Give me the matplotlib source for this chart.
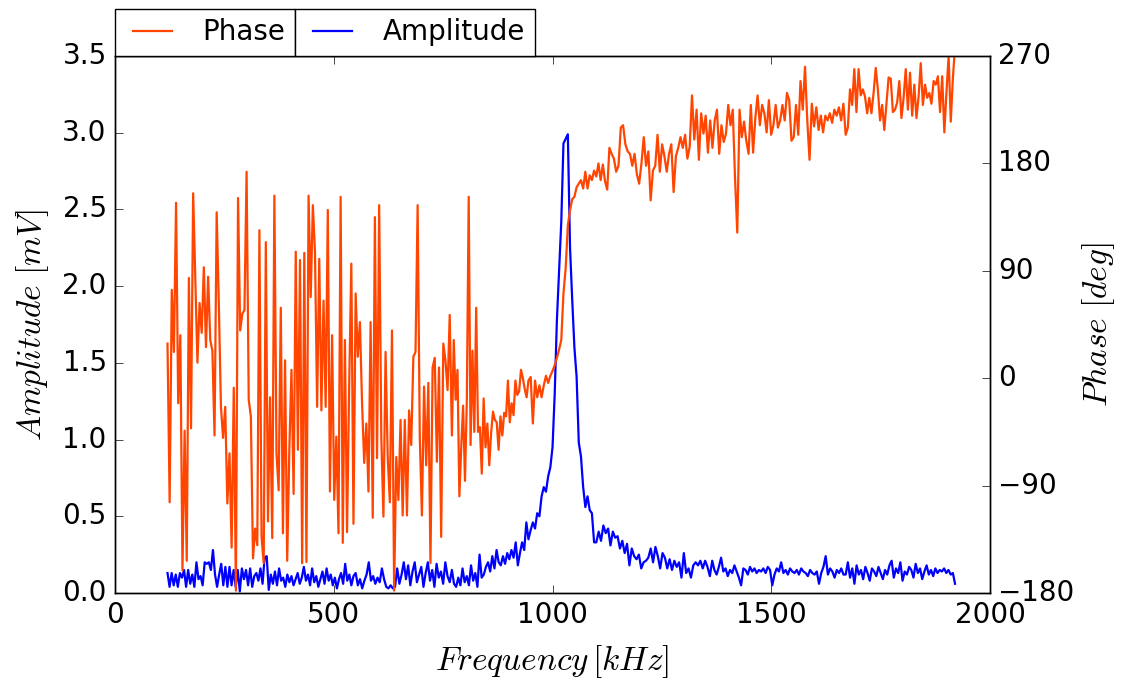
import numpy as np
import matplotlib
matplotlib.use("Agg")
import matplotlib.pyplot as plt

plt.style.use("classic")

# phase [deg] (kHz ranges)
phase_lo = [29, -104, 74, 22, 147, -21, 36, -161, -44, -153, 84, -42, 155, 85, 13, 63,
            38, 93, 26, 85, 32, 23, -48, 139, 63, -24, -50, -24, -105, -63, -142, -8,
            -178, 151, 40, 54, 57, 173, -18, -32, -151, -126, -140, 124,
            -133, -155, 114, -120, -16, -134, 153, -63, -94, 59, -130, 15, -153, -60, 7,
            -97, 106, -60, 99, -155, 105, -154, 153, 68, 145, 106, -24, 100, -27, 65, -24,
            141, -95, 36, -102, -49, -130, 152, -138, 32, -129, -6, 96, -122]
phase_mid = [71, 18, 47, -21, -71, -38, -95, 47, -117, 135, -67, 145, -49, -116, 22, -66,
             -104, 40, -178, -66, -102, -35, -115, -35, -115, -27, -56, 18, 22, 145, -49,
             -115, -7, -73, -4, -155, 9, 17, -70, 9, -133, 29, 15, -10, 53]
phase_c = [-48, 32, -18, 7, -99, -58, -23, -86, -18, 152, -56, 23, -45, 59, -45, -41, -80,
           -17, -58, -38, -73, -46, -28, -35, -37, -60, -32, -48, -29, -32, -2, -37, -21,
           -31, -2, -14, -11, 7, 0, -9, -16, -2]
phase_peak = [1, -38, -2, -16, -6, -16, -6, 2, -4, 2, 6, 11, 17, 24, 32, 71, 92, 128, 141,
              150, 152, 160, 163, 166, 159, 173, 159, 170, 166, 174, 169, 180, 166, 179,
              165, 158, 193]
phase_hi1 = [188, 184, 173, 178, 210, 212, 196, 190, 188, 178, 188, 171, 163, 180, 202, 178,
             190, 149, 174, 178, 204, 173, 196, 186, 173, 188, 196, 156, 186, 193, 202, 193,
             204, 184, 194, 237, 200, 225, 183, 222, 205]
phase_hi2 = [220, 189, 216, 193, 216, 225, 188, 212, 198, 205, 229, 212, 225, 168, 122, 225,
             202, 215, 199, 188, 229, 189, 218, 237, 212, 229, 222, 206, 233, 204, 212, 229,
             210, 216, 229, 216, 239, 233, 199, 202, 229, 204, 249, 225, 261, 216, 183, 230,
             211, 227, 208, 220, 206, 220, 216, 222, 214, 225, 220, 227, 216, 230, 204]
phase_hi3 = [210, 242, 229, 259, 223, 259, 237, 242, 236, 222, 235, 222, 239, 260, 242, 216,
             229, 208, 230, 252, 251, 223, 225, 231, 249, 218, 235, 259, 225, 256, 220, 246,
             218, 236, 264, 229, 246, 235, 239, 230, 249, 246, 253, 223, 253, 206, 240, 270,
             215, 252, 278]

# amplitude [mV]
amp_lo = [0.13, 0.04, 0.13, 0.05, 0.12, 0.04, 0.13, 0.10, 0.15, 0.04, 0.15, 0.06, 0.12,
          0.04, 0.20, 0.09, 0.11, 0.05, 0.20, 0.19, 0.20, 0.15, 0.28, 0.12, 0.04, 0.12,
          0.19, 0.05, 0.17, 0.04, 0.17, 0.05, 0.15, 0.04, 0.15, 0.01, 0.16, 0.09, 0.15,
          0.05, 0.16, 0.04, 0.11, 0.13, 0.08, 0.16, 0.06, 0.23,
          0.24, 0.02, 0.12, 0.06, 0.14, 0.05, 0.16, 0.08, 0.10, 0.04, 0.12, 0.07, 0.11,
          0.05, 0.09, 0.13, 0.06, 0.10, 0.17, 0.08, 0.12, 0.05, 0.16, 0.07, 0.11, 0.04,
          0.09, 0.14, 0.06, 0.16, 0.08, 0.12, 0.05, 0.10, 0.03, 0.09, 0.13, 0.06, 0.19,
          0.08, 0.12, 0.05, 0.11]
amp_mid = [0.13, 0.05, 0.09, 0.03, 0.08, 0.12, 0.20, 0.08, 0.11, 0.06, 0.10, 0.07, 0.16,
           0.09, 0.04, 0.03, 0.05, 0.03, 0.04, 0.16, 0.06, 0.12, 0.20, 0.09, 0.18, 0.05,
           0.14, 0.20, 0.07, 0.12, 0.17, 0.04, 0.13, 0.20, 0.08, 0.15, 0.04, 0.19, 0.10,
           0.14, 0.06, 0.20, 0.11, 0.07]
amp_c = [0.15, 0.06, 0.04, 0.10, 0.05, 0.16, 0.07, 0.11, 0.05, 0.18, 0.08, 0.13, 0.04, 0.25,
         0.10, 0.12, 0.17, 0.20, 0.14, 0.24, 0.16, 0.28, 0.20, 0.18, 0.24, 0.19, 0.26, 0.22,
         0.28, 0.23, 0.33, 0.18, 0.26, 0.33, 0.28, 0.46, 0.35]
amp_peak = [0.41, 0.46, 0.42, 0.52, 0.50, 0.63, 0.69, 0.66, 0.76, 0.82, 0.95, 1.30, 1.78,
            2.10, 2.42, 2.93, 2.96, 2.99, 2.25, 1.91, 1.60, 1.41, 0.98, 0.89, 0.69, 0.56,
            0.63, 0.54, 0.52, 0.33]
amp_hi1 = [0.33, 0.40, 0.34, 0.44, 0.39, 0.42, 0.31, 0.40, 0.36, 0.37, 0.29, 0.34, 0.26,
           0.32, 0.18, 0.29, 0.24, 0.22, 0.25, 0.16, 0.20, 0.21, 0.23, 0.29, 0.20, 0.30,
           0.24, 0.16, 0.26, 0.23, 0.16, 0.22, 0.15, 0.21, 0.17, 0.20, 0.10, 0.26, 0.13,
           0.16, 0.10, 0.18, 0.20, 0.18, 0.21, 0.16, 0.21, 0.17, 0.11, 0.21]
amp_hi2 = [0.15, 0.12, 0.17, 0.23, 0.14, 0.16, 0.11, 0.15, 0.13, 0.18, 0.14, 0.10, 0.05,
           0.16, 0.15, 0.12, 0.17, 0.14, 0.16, 0.13, 0.15, 0.14, 0.16, 0.13, 0.17, 0.15,
           0.05, 0.12, 0.16, 0.14, 0.20, 0.13, 0.15, 0.12, 0.16, 0.14, 0.13, 0.15, 0.12,
           0.16, 0.14, 0.13, 0.11, 0.15, 0.13, 0.12, 0.14, 0.06, 0.13, 0.17, 0.24, 0.12,
           0.16, 0.14, 0.10, 0.15, 0.13, 0.16, 0.12]
amp_hi3 = [0.12, 0.20, 0.10, 0.16, 0.06, 0.18, 0.12, 0.15, 0.09, 0.17, 0.13, 0.08, 0.16,
           0.14, 0.11, 0.17, 0.13, 0.09, 0.15, 0.12, 0.18, 0.21, 0.10, 0.16, 0.13, 0.20,
           0.08, 0.14, 0.12, 0.17, 0.15, 0.10, 0.19, 0.13, 0.16, 0.09, 0.14, 0.18, 0.12,
           0.15, 0.11, 0.16, 0.13, 0.15, 0.14, 0.16, 0.13, 0.15, 0.12, 0.13, 0.06]

# (start kHz, end kHz, values) for each piece of the sweep
phase_segments = [(120, 545, phase_lo), (550, 765, phase_mid), (770, 945, phase_c),
                  (950, 1130, phase_peak), (1135, 1345, phase_hi1), (1350, 1670, phase_hi2),
                  (1675, 1920, phase_hi3)]
amp_segments = [(120, 545, amp_lo), (550, 765, amp_mid), (770, 945, amp_c),
                (950, 1095, amp_peak), (1100, 1365, amp_hi1), (1370, 1665, amp_hi2),
                (1670, 1920, amp_hi3)]


def stitch(segments):
    f = np.concatenate([np.linspace(a, b, len(v)) for a, b, v in segments])
    y = np.concatenate([np.asarray(v, float) for _, _, v in segments])
    return f, y


f_phase, phase = stitch(phase_segments)
f_amp, amp = stitch(amp_segments)

fig = plt.figure(figsize=(11.22, 6.78), dpi=100, facecolor="white")
ax1 = fig.add_axes([0.1025, 0.1254, 0.7799, 0.792])
ax2 = ax1.twinx()

l_amp, = ax1.plot(f_amp, amp, color="#0000ff", lw=1.6)
l_phase, = ax2.plot(f_phase, phase, color="#ff4500", lw=1.6)

ax1.set_xlim(0, 2000)
ax1.set_ylim(0, 3.5)
ax1.set_xticks(np.arange(0, 2001, 500))
ax1.set_yticks(np.arange(0, 3.51, 0.5))
ax2.set_ylim(-180, 270)
ax2.set_yticks(np.arange(-180, 271, 90))

for ax in (ax1, ax2):
    ax.tick_params(labelsize=20, length=6, pad=6)
ax1.set_xlabel(r"$Frequency\,[kHz]$", fontsize=24, labelpad=10)
ax1.set_ylabel(r"$Amplitude\ [mV]$", fontsize=24, labelpad=8)
ax2.set_ylabel(r"$Phase\ [deg]$", fontsize=24, labelpad=4)

leg_kw = dict(loc="lower left", borderaxespad=0, fontsize=20, fancybox=False,
              handlelength=2.0, handletextpad=0.8, borderpad=0.35)
leg1 = ax2.legend([l_phase], ["Phase"], bbox_to_anchor=(0, 1), **leg_kw)
ax2.add_artist(leg1)
fig.canvas.draw()
bb = leg1.get_window_extent().transformed(ax2.transAxes.inverted())
ax2.legend([l_amp], ["Amplitude"], bbox_to_anchor=(bb.x1, 1), **leg_kw)

fig.savefig("out.png", dpi=100, facecolor="white")
